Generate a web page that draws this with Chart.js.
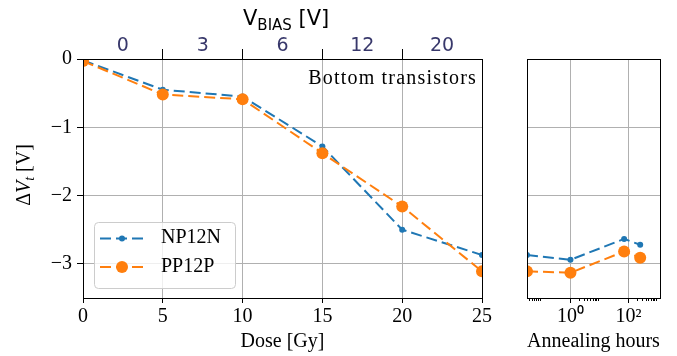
<!DOCTYPE html>
<html>
<head>
<meta charset="utf-8">
<script src="https://cdn.jsdelivr.net/npm/chart.js@4.4.1/dist/chart.umd.min.js"></script>
<style>
  html, body { margin: 0; padding: 0; background: #fff; }
  #wrap { position: relative; width: 677px; height: 356px; }
  canvas { position: absolute; left: 0; top: 0; }
</style>
</head>
<body>
<div id="wrap">
  <canvas id="doseChart" width="677" height="356"></canvas>
  <canvas id="annealChart" width="677" height="356"></canvas>
</div>
<script>
// irradiation steps
const doses = [0, 5, 10, 15, 20, 25];
const vbiasLabels = ['0', '3', '6', '12', '20'];
const np12nDose = [-0.02, -0.45, -0.55, -1.28, -2.50, -2.87];
const pp12pDose = [-0.03, -0.52, -0.59, -1.38, -2.16, -3.11];

// annealing after the last step
const annealHours = [0.032, 1, 70, 250];
const np12nAnneal = [-2.87, -2.94, -2.635, -2.72];
const pp12pAnneal = [-3.11, -3.13, -2.82, -2.91];

const yTicks = [0, -1, -2, -3];
const annealMajor = [1, 100];
const annealMinor = [0.04, 0.05, 0.06, 0.07, 0.08, 0.09, 2, 3, 4, 5, 6, 7, 8, 9,
                     200, 300, 400, 500, 600, 700, 800, 900];

const blue = '#1f77b4';
const orange = '#ff7f0e';
const gridColor = '#b0b0b0';
const navy = '#38386b';
const SERIF = 'Liberation Serif';
const SANS = 'DejaVu Sans';

const serif = (size) => ({ family: SERIF, size: size, lineHeight: 1.2 });
const fmtY = (v) => v === 0 ? '0' : '\u2212' + Math.abs(v);
const toPts = (xs, ys) => xs.map((x, i) => ({ x: x, y: ys[i] }));

function series(label, color, pts, radius, order) {
    return {
        label: label,
        data: pts,
        borderColor: color,
        backgroundColor: color,
        borderWidth: 2,
        borderDash: [11, 5],
        pointRadius: radius,
        pointBorderWidth: 0,
        pointHoverRadius: radius,
        tension: 0,
        order: order
    };
}

// axes frame on all four sides
const framePlugin = {
    id: 'frame',
    afterDraw(chart) {
        const { ctx, chartArea: a } = chart;
        const al = (p) => Math.round(p - 0.5) + 0.5;
        ctx.save();
        ctx.strokeStyle = '#000';
        ctx.lineWidth = 1;
        ctx.strokeRect(al(a.left), al(a.top), al(a.right) - al(a.left), al(a.bottom) - al(a.top));
        ctx.restore();
    }
};

// texts and legend of the dose panel
const dosePanelText = {
    id: 'dosePanelText',
    afterDraw(chart) {
        const ctx = chart.ctx;
        ctx.save();
        ctx.fillStyle = '#000';
        ctx.textBaseline = 'alphabetic';

        // annotation
        ctx.font = '20px "' + SERIF + '"';
        ctx.letterSpacing = '1.2px';
        ctx.textAlign = 'right';
        ctx.fillText('Bottom transistors', 477, 84);
        ctx.letterSpacing = '0px';

        // top axis title  V_BIAS [V]
        ctx.textAlign = 'left';
        let x = 243;
        ctx.font = '21px "' + SANS + '"';
        ctx.fillText('V', x, 25);
        x += ctx.measureText('V').width;
        ctx.font = '15px "' + SANS + '"';
        ctx.fillText('BIAS', x, 29.5);
        x += ctx.measureText('BIAS').width;
        ctx.font = '21px "' + SANS + '"';
        ctx.fillText(' [V]', x, 25);

        // y axis title  ΔV_t [V]
        const parts = [
            ['\u0394', '20px "' + SERIF + '"', 0],
            ['V', 'italic 20px "' + SERIF + '"', 0],
            ['t', 'italic 14px "' + SERIF + '"', 4],
            [' [V]', '20px "' + SERIF + '"', 0]
        ];
        let total = 0;
        parts.forEach(p => { ctx.font = p[1]; total += ctx.measureText(p[0]).width; });
        ctx.translate(30, 175);
        ctx.rotate(-Math.PI / 2);
        let px = -total / 2;
        parts.forEach(p => {
            ctx.font = p[1];
            ctx.fillText(p[0], px, p[2]);
            px += ctx.measureText(p[0]).width;
        });
        ctx.restore();

        // legend
        ctx.save();
        ctx.beginPath();
        ctx.roundRect(94.5, 222.5, 141, 66, 4);
        ctx.fillStyle = 'rgba(255,255,255,0.8)';
        ctx.fill();
        ctx.strokeStyle = '#cccccc';
        ctx.lineWidth = 1;
        ctx.stroke();
        const rows = [238.5, 267];
        chart.data.datasets.forEach((ds, i) => {
            const y = rows[i];
            ctx.strokeStyle = ds.borderColor;
            ctx.lineWidth = ds.borderWidth;
            ctx.setLineDash(ds.borderDash);
            ctx.beginPath();
            ctx.moveTo(100, y);
            ctx.lineTo(143, y);
            ctx.stroke();
            ctx.setLineDash([]);
            ctx.fillStyle = ds.backgroundColor;
            ctx.beginPath();
            ctx.arc(122, y, ds.pointRadius, 0, Math.PI * 2);
            ctx.fill();
            ctx.fillStyle = '#000';
            ctx.font = '20px "' + SERIF + '"';
            ctx.textAlign = 'left';
            ctx.fillText(ds.label, 161, y + 4.8);
        });
        ctx.restore();
    }
};

new Chart(document.getElementById('doseChart'), {
    type: 'line',
    data: {
        datasets: [
            series('NP12N', blue, toPts(doses, np12nDose), 3, 1),
            series('PP12P', orange, toPts(doses, pp12pDose), 6, 0)
        ]
    },
    options: {
        responsive: false,
        animation: false,
        devicePixelRatio: 1,
        layout: { padding: { left: 0, right: 195, top: 0, bottom: 0 } },
        plugins: { legend: { display: false }, tooltip: { enabled: false } },
        scales: {
            x: {
                type: 'linear',
                position: 'bottom',
                min: 0,
                max: 25,
                afterBuildTicks: (s) => { s.ticks = doses.map(v => ({ value: v })); },
                afterFit: (s) => { s.height = 58; },
                grid: { color: gridColor, lineWidth: 1, tickColor: '#000', tickLength: 5 },
                border: { color: '#000', width: 1 },
                ticks: { font: serif(20), color: '#000', padding: 2, maxRotation: 0, autoSkip: false },
                title: { display: true, text: 'Dose [Gy]', font: serif(20), color: '#000', padding: { top: 0, bottom: 2 } }
            },
            xTop: {
                type: 'linear',
                position: 'top',
                min: 0,
                max: 25,
                afterBuildTicks: (s) => {
                    const t = [];
                    for (let i = 0; i <= 10; i++) t.push({ value: i * 2.5 });
                    s.ticks = t;
                },
                afterFit: (s) => { s.height = 59; },
                grid: {
                    drawOnChartArea: false,
                    tickLength: 10,
                    tickColor: (c) => {
                        const v = c.tick ? c.tick.value : 0;
                        return (v % 5 === 0 && v > 0 && v < 25) ? '#000' : 'rgba(0,0,0,0)';
                    }
                },
                border: { color: '#000', width: 1 },
                ticks: {
                    font: { family: SANS, size: 19 },
                    color: navy,
                    padding: -8,
                    maxRotation: 0,
                    autoSkip: false,
                    callback: (v) => (v % 5 === 0) ? '' : vbiasLabels[Math.floor(v / 5)]
                }
            },
            y: {
                min: -3.5,
                max: 0,
                afterBuildTicks: (s) => { s.ticks = yTicks.map(v => ({ value: v })); },
                afterFit: (s) => { s.width = 83; },
                grid: { color: gridColor, lineWidth: 1, tickColor: '#000', tickLength: 6 },
                border: { color: '#000', width: 1 },
                ticks: { font: serif(20), color: '#000', padding: 5, callback: fmtY }
            }
        }
    },
    plugins: [framePlugin, dosePanelText]
});

new Chart(document.getElementById('annealChart'), {
    type: 'line',
    data: {
        datasets: [
            series('NP12N', blue, toPts(annealHours, np12nAnneal), 3, 1),
            series('PP12P', orange, toPts(annealHours, pp12pAnneal), 6, 0)
        ]
    },
    options: {
        responsive: false,
        animation: false,
        devicePixelRatio: 1,
        layout: { padding: { left: 527, right: 17, top: 59, bottom: 0 } },
        plugins: { legend: { display: false }, tooltip: { enabled: false } },
        scales: {
            x: {
                type: 'logarithmic',
                position: 'bottom',
                weight: 1,
                min: 0.032,
                max: 1200,
                afterBuildTicks: (s) => { s.ticks = annealMajor.map(v => ({ value: v })); },
                afterFit: (s) => { s.height = 58; },
                grid: { color: gridColor, lineWidth: 1, tickColor: '#000', tickLength: 5 },
                border: { color: '#000', width: 1 },
                ticks: {
                    font: serif(20), color: '#000', padding: 2, maxRotation: 0, autoSkip: false,
                    callback: (v) => v === 1 ? '10\u2070' : '10\u00b2'
                },
                title: { display: true, text: 'Annealing hours', font: serif(20), color: '#000', padding: { top: 0, bottom: 2 } }
            },
            xMinor: {
                type: 'logarithmic',
                position: 'bottom',
                weight: 0,
                min: 0.032,
                max: 1200,
                afterBuildTicks: (s) => { s.ticks = annealMinor.map(v => ({ value: v })); },
                afterFit: (s) => { s.height = 0; },
                grid: { drawOnChartArea: false, tickColor: '#000', tickLength: 3 },
                border: { display: false },
                ticks: { display: false }
            },
            y: {
                min: -3.5,
                max: 0,
                afterBuildTicks: (s) => { s.ticks = yTicks.map(v => ({ value: v })); },
                afterFit: (s) => { s.width = 0; },
                grid: { color: gridColor, lineWidth: 1, drawTicks: false },
                border: { color: '#000', width: 1 },
                ticks: { display: false }
            }
        }
    },
    plugins: [framePlugin]
});
</script>
</body>
</html>
